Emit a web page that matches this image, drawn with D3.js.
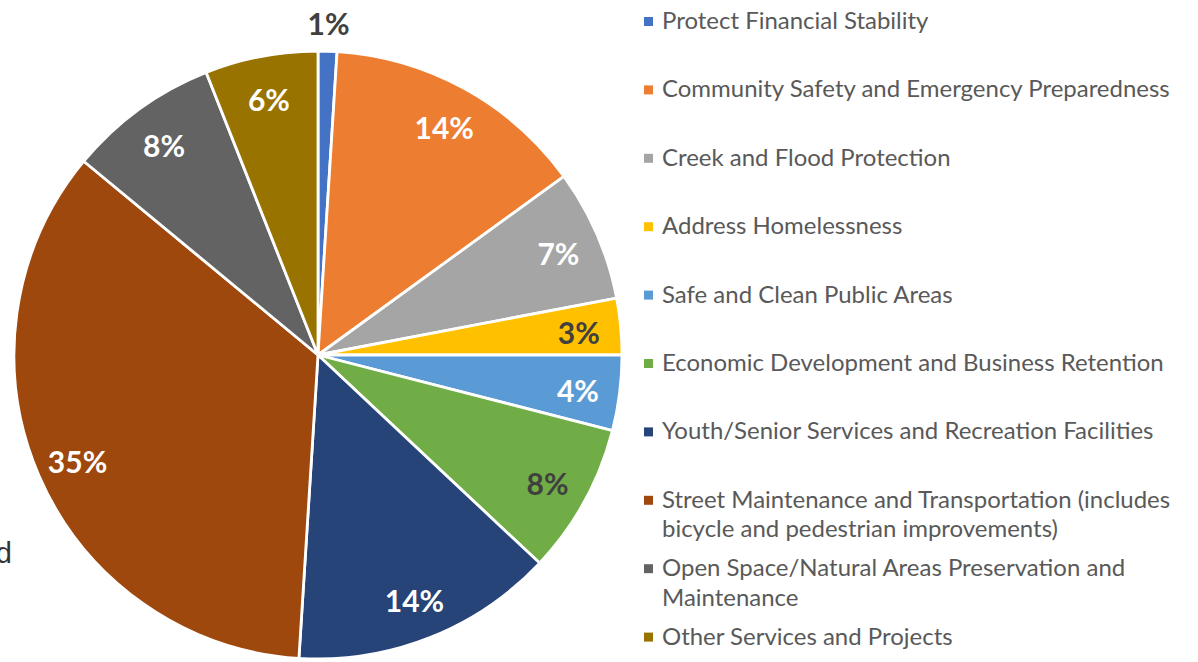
<!DOCTYPE html>
<html>
<head>
<meta charset="utf-8">
<script src="https://cdn.jsdelivr.net/npm/d3@7"></script>
<style>
  html, body { margin: 0; padding: 0; background: #fff; }
  svg { display: block; }
</style>
</head>
<body>
<svg id="chart" width="1198" height="662"></svg>
<script>
// Budget priorities, share of total (%), clockwise from 12 o'clock
const categories = [
  "Protect Financial Stability",
  "Community Safety and Emergency Preparedness",
  "Creek and Flood Protection",
  "Address Homelessness",
  "Safe and Clean Public Areas",
  "Economic Development and Business Retention",
  "Youth/Senior Services and Recreation Facilities",
  "Street Maintenance and Transportation (includes|bicycle and pedestrian improvements)",
  "Open Space/Natural Areas Preservation and|Maintenance",
  "Other Services and Projects"
];
const shares = [1, 14, 7, 3, 4, 8, 14, 35, 8, 6];
const colors = ["#4472C4", "#ED7D31", "#A5A5A5", "#FFC000", "#5B9BD5",
                "#70AD47", "#264478", "#9E480E", "#636363", "#997300"];
const labelColors = ["#404040", "#fff", "#fff", "#404040", "#fff",
                     "#404040", "#fff", "#fff", "#fff", "#fff"];

const svg = d3.select("#chart");
const cx = 318, cy = 355, R = 304;

const pie = d3.pie().sort(null).value(d => d)(shares);
const arc = d3.arc().innerRadius(0).outerRadius(R);
const labelArc = d3.arc().innerRadius(262).outerRadius(262);
const outsideArc = d3.arc().innerRadius(334).outerRadius(334);

const g = svg.append("g").attr("transform", `translate(${cx},${cy})`);

g.selectAll("path.slice")
  .data(pie)
  .join("path")
  .attr("class", "slice")
  .attr("d", arc)
  .attr("fill", (d, i) => colors[i])
  .attr("stroke", "#fff")
  .attr("stroke-width", 2.8)
  .attr("stroke-linejoin", "round");

g.selectAll("text.pct")
  .data(pie)
  .join("text")
  .attr("class", "pct")
  .attr("transform", d => {
    const c = (d.data < 2 ? outsideArc : labelArc).centroid(d);
    return `translate(${c[0]},${c[1]})`;
  })
  .attr("text-anchor", "middle")
  .attr("dy", "0.46em")
  .attr("font-family", "Lato, 'Open Sans', sans-serif")
  .attr("font-weight", 700)
  .attr("font-size", 30)
  .attr("fill", (d, i) => labelColors[i])
  .text(d => d.data + "%");

// Legend
const legend = svg.append("g");
const lx = 644, textX = 662, firstBase = 29, step = 68.4, lineH = 29.5;
const legendFont = "Lato, 'Open Sans', sans-serif";

const items = legend.selectAll("g.item")
  .data(categories)
  .join("g")
  .attr("class", "item")
  .attr("transform", (d, i) => `translate(0,${firstBase + i * step})`);

items.append("rect")
  .attr("x", lx)
  .attr("y", -12)
  .attr("width", 9)
  .attr("height", 9)
  .attr("fill", (d, i) => colors[i]);

const texts = items.append("text")
  .attr("x", textX)
  .attr("font-family", legendFont)
  .attr("font-size", 22)
  .attr("fill", "#595959");

texts.each(function(d) {
  const t = d3.select(this);
  d.split("|").forEach((line, k) => {
    t.append("tspan").attr("x", textX).attr("dy", k === 0 ? 0 : lineH).text(line);
  });
});

// Fit legend font so the widest single line spans the legend column
const probe = texts.filter((d, i) => i === 1).node();
const w = probe.getComputedTextLength();
const fs = 22 * 508 / w;
texts.attr("font-size", fs);

// Fragment of text at the left edge
svg.append("text")
  .attr("x", 12)
  .attr("y", 563)
  .attr("text-anchor", "end")
  .attr("font-family", "'Liberation Sans', Arial, sans-serif")
  .attr("font-size", 29)
  .attr("fill", "#333")
  .text("d");
</script>
</body>
</html>
